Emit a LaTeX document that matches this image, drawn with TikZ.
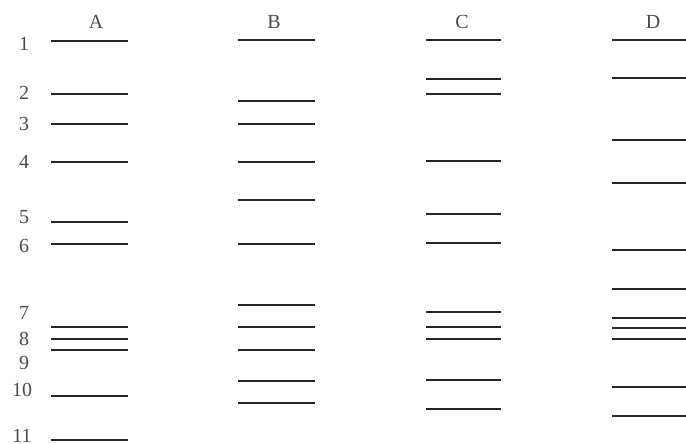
\documentclass[tikz,border=0pt]{standalone}
\usepackage{fontspec}
\setmainfont{Liberation Serif}
\usetikzlibrary{positioning}
\colorlet{bandgray}{black!85}
\colorlet{labelgray}{black!70}
\newcommand{\BandColumn}[5]{%
  \node[text=labelgray] (head#3) at (#4,22) {#3};
  \foreach \y in {#5} {
    \draw[bandline] (#1,\y) -- (#2,\y);
  }
}

\begin{document}
\begin{tikzpicture}[x=0.5pt,y=-0.5pt,font=\fontsize{10}{12}\selectfont,
    bandline/.style={bandgray,line width=1.1pt}]
    \useasboundingbox (0,0) rectangle (686,444);
    \foreach \n/\y/\x in {1/44/24,2/93/24,3/124/24,4/162/24,5/217/24,6/246/24,
                          7/313/24,8/339/24,9/363/24,10/390/22,11/435.5/22} {
      \node[text=labelgray] (lbl\n) at (\x,\y) {\n};
    }
    \BandColumn{51}{128}{A}{96}{41,94,124,162,222,244,327,339,350,396,440}
    \BandColumn{238}{315}{B}{274}{40,101,124,162,200,244,305,327,350,381,403}
    \BandColumn{426}{501}{C}{462}{40,79,94,161,214,243,312,327,339,380,409}
    \BandColumn{612}{690}{D}{653}{40,78,140,183,250,289,318,328,339,387,416}
  \end{tikzpicture}
\end{document}
